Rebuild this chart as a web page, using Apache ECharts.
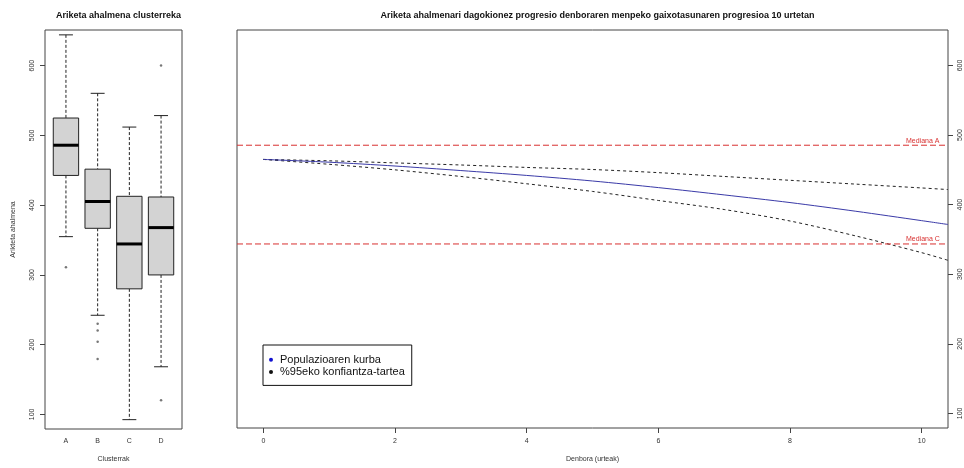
<!DOCTYPE html>
<html>
<head>
<meta charset="utf-8">
<script src="https://cdn.jsdelivr.net/npm/echarts@6/dist/echarts.min.js"></script>
<style>
  html, body { margin: 0; padding: 0; background: #fff; }
  #chart { width: 964px; height: 468px; }
</style>
</head>
<body>
<div id="chart"></div>
<script>
// kluster bakoitzaren boxplot datuak: [min, Q1, mediana, Q3, max]
var clusters = ['A', 'B', 'C', 'D'];
var boxStats = [
    [354, 442, 485.4, 524.5, 644],
    [241, 366, 404.5, 451, 560],
    [91, 279, 343.5, 412, 511.5],
    [167, 299, 367, 411, 528]
];
// muturreko balioak [kluster indizea, balioa]
var outliers = [[0, 310], [1, 229], [1, 219], [1, 203], [1, 178], [3, 600], [3, 119]];

// progresio kurbak (urteak)
var years = [0, 1, 2, 3, 4, 5, 6, 7, 8, 9, 10, 10.4];
var popCurve = [465, 461, 455.5, 449, 442, 434, 424.5, 414, 403, 390.5, 377, 371.5];
var ciUpper = [465, 463, 460, 457, 453.5, 450.5, 446, 440.5, 435, 429.5, 424, 421.7];
var ciLower = [465, 458, 450, 440.5, 430, 419, 406, 393, 376.5, 355, 331, 320];

var yTicks = [100, 200, 300, 400, 500, 600];
var xTicks = [0, 2, 4, 6, 8, 10];
var xRange = [-0.4, 10.4];

var FONT = 'Liberation Sans';
var RED = '#d83030';

function pairs(xs, ys) {
    return xs.map(function (x, i) { return [x, ys[i]]; });
}

// R estiloko boxplot-a
function renderBox(params, api) {
    var idx = api.value(0);
    var lo = api.coord([idx, api.value(1)]);
    var q1 = api.coord([idx, api.value(2)]);
    var md = api.coord([idx, api.value(3)]);
    var q3 = api.coord([idx, api.value(4)]);
    var hi = api.coord([idx, api.value(5)]);
    var band = api.size([1, 0])[0];
    var bw = band * 0.8;
    var cw = bw * 0.55;
    var x = md[0];
    var dash = { stroke: '#222', lineWidth: 1, lineDash: [3, 2] };
    var solid = { stroke: '#222', lineWidth: 1 };
    return {
        type: 'group',
        children: [
            { type: 'line', shape: { x1: x, y1: hi[1], x2: x, y2: q3[1] }, style: dash },
            { type: 'line', shape: { x1: x, y1: q1[1], x2: x, y2: lo[1] }, style: dash },
            { type: 'line', shape: { x1: x - cw / 2, y1: hi[1], x2: x + cw / 2, y2: hi[1] }, style: solid },
            { type: 'line', shape: { x1: x - cw / 2, y1: lo[1], x2: x + cw / 2, y2: lo[1] }, style: solid },
            { type: 'rect', shape: { x: x - bw / 2, y: q3[1], width: bw, height: q1[1] - q3[1] },
              style: { fill: '#d3d3d3', stroke: '#222', lineWidth: 1 } },
            { type: 'line', shape: { x1: x - bw / 2, y1: md[1], x2: x + bw / 2, y2: md[1] },
              style: { stroke: '#000', lineWidth: 3 } }
        ]
    };
}

// mediana lerro horizontala
function medianSeries(label, value) {
    return {
        name: label,
        type: 'line',
        xAxisIndex: 2, yAxisIndex: 2,
        data: [[xRange[0], value], [xRange[1], value]],
        showSymbol: false,
        silent: true,
        itemStyle: { color: RED },
        lineStyle: { color: RED, width: 1, type: [6, 3], opacity: 1 },
        emphasis: { disabled: true },
        endLabel: {
            show: true,
            formatter: label,
            offset: [-50, -4.5],
            fontFamily: FONT, fontSize: 7, color: RED
        },
        z: 5
    };
}

var chart = echarts.init(document.getElementById('chart'));

var tickLabel = { fontFamily: FONT, fontSize: 7, color: '#333' };

var option = {
    animation: false,
    backgroundColor: '#fff',
    title: [
        {
            text: 'Ariketa ahalmena clusterreka',
            left: 113.5, top: 6, textAlign: 'center',
            textStyle: { fontFamily: FONT, fontSize: 9, fontWeight: 'bold', color: '#111' }
        },
        {
            text: 'Ariketa ahalmenari dagokionez progresio denboraren menpeko gaixotasunaren progresioa 10 urtetan',
            left: 592.5, top: 6, textAlign: 'center',
            textStyle: { fontFamily: FONT, fontSize: 9, fontWeight: 'bold', color: '#111' }
        }
    ],
    legend: {
        data: ['Populazioaren kurba', '%95eko konfiantza-tartea'],
        orient: 'vertical',
        left: 263, top: 345,
        icon: 'circle',
        itemWidth: 8, itemHeight: 4,
        itemGap: 0.3,
        padding: [8.7, 7, 7.4, 6],
        borderColor: '#111', borderWidth: 1,
        textStyle: { fontFamily: FONT, fontSize: 11, lineHeight: 12, color: '#111' }
    },
    grid: [
        // ezkerreko markoa
        { left: 45, top: 30, width: 137, height: 399, show: true, borderColor: '#444', borderWidth: 1 },
        // boxplot-en kategoriak
        { left: 50.1, top: 30, width: 126.8, height: 399 },
        // eskuineko markoa
        { left: 237, top: 30, width: 711, height: 399, show: true, borderColor: '#444', borderWidth: 1 }
    ],
    xAxis: [
        { gridIndex: 0, type: 'value', show: false },
        {
            gridIndex: 1, type: 'category', data: clusters, boundaryGap: true,
            axisLine: { show: false, onZero: false },
            axisTick: { alignWithLabel: true, length: 5, lineStyle: { color: '#444' } },
            axisLabel: Object.assign({ margin: 10 }, tickLabel),
            name: 'Clusterrak', nameLocation: 'middle', nameGap: 28,
            nameTextStyle: { fontFamily: FONT, fontSize: 7, color: '#333' }
        },
        {
            gridIndex: 2, type: 'value', min: xRange[0], max: xRange[1],
            splitLine: { show: false },
            axisLine: { show: false, onZero: false },
            axisTick: { length: 5, customValues: xTicks, lineStyle: { color: '#444' } },
            axisLabel: Object.assign({ margin: 10, customValues: xTicks }, tickLabel),
            name: 'Denbora (urteak)', nameLocation: 'middle', nameGap: 28,
            nameTextStyle: { fontFamily: FONT, fontSize: 7, color: '#333' }
        }
    ],
    yAxis: [
        {
            gridIndex: 0, type: 'value', min: 79, max: 651,
            splitLine: { show: false },
            axisLine: { show: false, onZero: false },
            axisTick: { length: 5, customValues: yTicks, lineStyle: { color: '#444' } },
            axisLabel: Object.assign({ rotate: 90, margin: 9, customValues: yTicks }, tickLabel),
            name: 'Arikteta ahalmena', nameLocation: 'middle', nameGap: 28,
            nameTextStyle: { fontFamily: FONT, fontSize: 7, color: '#333' }
        },
        { gridIndex: 1, type: 'value', min: 79, max: 651, show: false },
        {
            gridIndex: 2, type: 'value', min: 79, max: 651, position: 'right',
            splitLine: { show: false },
            axisLine: { show: false, onZero: false },
            axisTick: { length: 5, customValues: yTicks, lineStyle: { color: '#444' } },
            axisLabel: Object.assign({ rotate: 90, margin: 9, customValues: yTicks }, tickLabel)
        }
    ],
    series: [
        {
            name: 'boxplot',
            type: 'custom',
            xAxisIndex: 1, yAxisIndex: 1,
            renderItem: renderBox,
            encode: { x: 0, y: [1, 2, 3, 4, 5] },
            data: boxStats.map(function (s, i) { return [i].concat(s); }),
            z: 3
        },
        {
            name: 'outliers',
            type: 'scatter',
            xAxisIndex: 1, yAxisIndex: 1,
            symbol: 'circle', symbolSize: 2.5,
            itemStyle: { color: '#555' },
            data: outliers,
            z: 4
        },
        {
            name: '%95eko konfiantza-tartea',
            type: 'line',
            xAxisIndex: 2, yAxisIndex: 2,
            data: pairs(years, ciUpper),
            smooth: 0.3, showSymbol: false,
            itemStyle: { color: '#111' },
            lineStyle: { color: '#222', width: 1, type: [3, 3] }
        },
        {
            name: '%95eko konfiantza-tartea',
            type: 'line',
            xAxisIndex: 2, yAxisIndex: 2,
            data: pairs(years, ciLower),
            smooth: 0.3, showSymbol: false,
            itemStyle: { color: '#111' },
            lineStyle: { color: '#222', width: 1, type: [3, 3] }
        },
        {
            name: 'Populazioaren kurba',
            type: 'line',
            xAxisIndex: 2, yAxisIndex: 2,
            data: pairs(years, popCurve),
            smooth: 0.3, showSymbol: false,
            itemStyle: { color: '#1010d0' },
            lineStyle: { color: '#3a3aa8', width: 1 }
        },
        medianSeries('Mediana A', boxStats[0][2]),
        medianSeries('Mediana C', boxStats[2][2])
    ]
};

chart.setOption(option);
</script>
</body>
</html>
